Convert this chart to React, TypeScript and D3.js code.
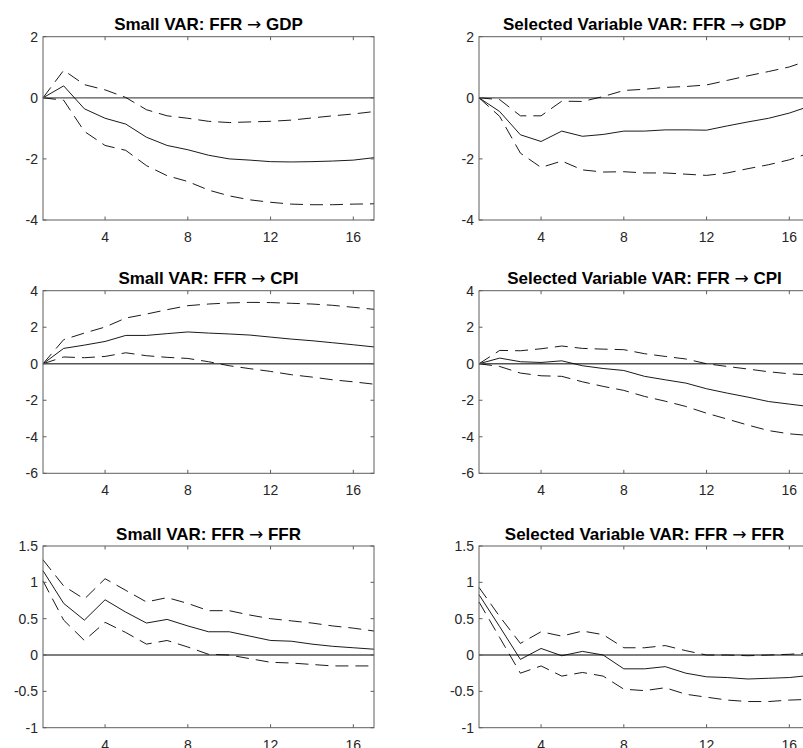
import React from "react";
import * as d3 from "d3";

const horizons = [1, 2, 3, 4, 5, 6, 7, 8, 9, 10, 11, 12, 13, 14, 15, 16, 17];
const xTicks = [4, 8, 12, 16];

const titleLeft = ["Small VAR: FFR", "Selected Variable VAR: FFR", "Small VAR: FFR", "Selected Variable VAR: FFR", "Small VAR: FFR", "Selected Variable VAR: FFR"];
const titleRight = ["GDP", "GDP", "CPI", "CPI", "FFR", "FFR"];

const gdpTicks = [-4, -2, 0, 2];
const cpiTicks = [-6, -4, -2, 0, 2, 4];
const ffrTicks = [-1, -0.5, 0, 0.5, 1, 1.5];

// Small VAR: FFR -> GDP
const smallGdpMid = [0, 0.39, -0.36, -0.67, -0.86, -1.29, -1.56, -1.7, -1.88, -2.0, -2.04, -2.09, -2.1, -2.09, -2.07, -2.04, -1.96];
const smallGdpUp = [0, 0.9, 0.43, 0.26, 0.01, -0.39, -0.59, -0.67, -0.77, -0.81, -0.79, -0.77, -0.73, -0.66, -0.59, -0.53, -0.45];
const smallGdpLo = [0, -0.08, -1.1, -1.56, -1.72, -2.22, -2.55, -2.74, -3.02, -3.21, -3.34, -3.42, -3.48, -3.5, -3.5, -3.48, -3.47];

// Selected Variable VAR: FFR -> GDP
const selGdpMid = [0, -0.45, -1.21, -1.43, -1.09, -1.26, -1.2, -1.09, -1.09, -1.05, -1.05, -1.06, -0.92, -0.79, -0.67, -0.5, -0.27];
const selGdpUp = [0, -0.06, -0.59, -0.59, -0.11, -0.12, 0.04, 0.24, 0.28, 0.34, 0.37, 0.42, 0.57, 0.72, 0.86, 1.01, 1.24];
const selGdpLo = [0, -0.61, -1.81, -2.28, -2.07, -2.36, -2.43, -2.42, -2.46, -2.46, -2.5, -2.54, -2.46, -2.32, -2.19, -2.03, -1.8];

// Small VAR: FFR -> CPI
const smallCpiMid = [0, 0.84, 1.02, 1.22, 1.55, 1.55, 1.65, 1.74, 1.68, 1.63, 1.57, 1.46, 1.35, 1.26, 1.15, 1.04, 0.92];
const smallCpiUp = [0, 1.32, 1.68, 2.01, 2.5, 2.72, 2.96, 3.18, 3.27, 3.33, 3.36, 3.35, 3.31, 3.27, 3.2, 3.09, 2.98];
const smallCpiLo = [0, 0.37, 0.33, 0.4, 0.6, 0.44, 0.35, 0.29, 0.11, -0.11, -0.27, -0.42, -0.6, -0.73, -0.88, -0.99, -1.12];

// Selected Variable VAR: FFR -> CPI
const selCpiMid = [0, 0.31, 0.11, 0.07, 0.16, -0.11, -0.26, -0.37, -0.69, -0.88, -1.06, -1.37, -1.61, -1.83, -2.07, -2.21, -2.35];
const selCpiUp = [0, 0.73, 0.71, 0.82, 0.97, 0.84, 0.8, 0.77, 0.55, 0.4, 0.26, 0.0, -0.15, -0.29, -0.44, -0.55, -0.62];
const selCpiLo = [0, -0.15, -0.51, -0.66, -0.69, -0.99, -1.24, -1.46, -1.79, -2.05, -2.34, -2.71, -3.03, -3.36, -3.66, -3.84, -3.93];

// Small VAR: FFR -> FFR
const smallFfrMid = [1.16, 0.71, 0.48, 0.76, 0.59, 0.44, 0.49, 0.4, 0.32, 0.32, 0.26, 0.2, 0.19, 0.15, 0.12, 0.1, 0.08];
const smallFfrUp = [1.31, 0.95, 0.77, 1.05, 0.89, 0.73, 0.79, 0.71, 0.61, 0.61, 0.55, 0.5, 0.47, 0.44, 0.4, 0.37, 0.33];
const smallFfrLo = [1.02, 0.48, 0.2, 0.45, 0.31, 0.15, 0.2, 0.11, 0.01, 0.0, -0.05, -0.1, -0.11, -0.13, -0.15, -0.15, -0.15];

// Selected Variable VAR: FFR -> FFR
const selFfrMid = [0.83, 0.39, -0.06, 0.09, -0.01, 0.05, 0.0, -0.19, -0.19, -0.16, -0.25, -0.3, -0.31, -0.33, -0.32, -0.31, -0.28];
const selFfrUp = [0.93, 0.53, 0.16, 0.32, 0.26, 0.33, 0.28, 0.1, 0.1, 0.13, 0.06, 0.0, 0.0, -0.01, 0.0, 0.01, 0.03];
const selFfrLo = [0.73, 0.24, -0.25, -0.15, -0.29, -0.24, -0.29, -0.47, -0.49, -0.45, -0.54, -0.58, -0.62, -0.64, -0.64, -0.62, -0.61];

type PanelSpec = {
  left: string;
  right: string;
  yTicks: number[];
  mid: number[];
  up: number[];
  lo: number[];
};

const panels: PanelSpec[] = [
  { left: titleLeft[0], right: titleRight[0], yTicks: gdpTicks, mid: smallGdpMid, up: smallGdpUp, lo: smallGdpLo },
  { left: titleLeft[1], right: titleRight[1], yTicks: gdpTicks, mid: selGdpMid, up: selGdpUp, lo: selGdpLo },
  { left: titleLeft[2], right: titleRight[2], yTicks: cpiTicks, mid: smallCpiMid, up: smallCpiUp, lo: smallCpiLo },
  { left: titleLeft[3], right: titleRight[3], yTicks: cpiTicks, mid: selCpiMid, up: selCpiUp, lo: selCpiLo },
  { left: titleLeft[4], right: titleRight[4], yTicks: ffrTicks, mid: smallFfrMid, up: smallFfrUp, lo: smallFfrLo },
  { left: titleLeft[5], right: titleRight[5], yTicks: ffrTicks, mid: selFfrMid, up: selFfrUp, lo: selFfrLo },
];

const colX = [
  [43, 374],
  [479, 810],
];
const rowY = [
  [36.7, 220],
  [290.7, 473.3],
  [546, 727.7],
];

const FONT = "'Liberation Sans', Arial, Helvetica, sans-serif";
const AXIS = "#5e5e5e";
const TXT = "#262626";

function Panel({ spec, x0, x1, y0, y1 }: { spec: PanelSpec; x0: number; x1: number; y0: number; y1: number }) {
  const xs = d3.scaleLinear().domain([1, 17]).range([x0, x1]);
  const ext = d3.extent(spec.yTicks) as [number, number];
  const ys = d3.scaleLinear().domain(ext).range([y1, y0]);
  const line = d3
    .line<number>()
    .x((_, i) => xs(horizons[i]))
    .y((d) => ys(d));
  const tl = 3.5;
  return (
    <g>
      <text
        x={(x0 + x1) / 2}
        y={y0 - 6.4}
        textAnchor="middle"
        fontFamily={FONT}
        fontWeight="bold"
        fontSize={17}
        fill="#000"
      >
        {spec.left + " "}
        <tspan fontFamily="'DejaVu Sans', sans-serif" fontWeight="normal" fontSize={17}>
          {"\u2192"}
        </tspan>
        {" " + spec.right}
      </text>
      <line x1={x0} x2={x1} y1={ys(0)} y2={ys(0)} stroke="#555" strokeWidth={1.3} />
      <path d={line(spec.up) || ""} fill="none" stroke="#000" strokeWidth={0.9} strokeDasharray="13,7" />
      <path d={line(spec.lo) || ""} fill="none" stroke="#000" strokeWidth={0.9} strokeDasharray="13,7" />
      <path d={line(spec.mid) || ""} fill="none" stroke="#000" strokeWidth={0.9} />
      <rect x={x0} y={y0} width={x1 - x0} height={y1 - y0} fill="none" stroke={AXIS} strokeWidth={1} />
      {xTicks.map((t) => (
        <g key={"x" + t}>
          <line x1={xs(t)} x2={xs(t)} y1={y1} y2={y1 - tl} stroke={AXIS} />
          <line x1={xs(t)} x2={xs(t)} y1={y0} y2={y0 + tl} stroke={AXIS} />
          <text
            x={xs(t)}
            y={y1 + 22}
            textAnchor="middle"
            fontFamily={FONT}
            fontSize={14}
            fill={TXT}
          >
            {t}
          </text>
        </g>
      ))}
      {spec.yTicks.map((t) => (
        <g key={"y" + t}>
          <line x1={x0} x2={x0 + tl} y1={ys(t)} y2={ys(t)} stroke={AXIS} />
          <line x1={x1} x2={x1 - tl} y1={ys(t)} y2={ys(t)} stroke={AXIS} />
          <text
            x={x0 - 5}
            y={ys(t) + 5}
            textAnchor="end"
            fontFamily={FONT}
            fontSize={14}
            fill={TXT}
          >
            {String(t)}
          </text>
        </g>
      ))}
    </g>
  );
}

export default function App() {
  return (
    <svg
      width={803}
      height={748}
      style={{ position: "absolute", left: 0, top: 0, background: "#fff" }}
    >
      <rect x={0} y={0} width={803} height={748} fill="#fff" />
      {panels.map((p, i) => {
        const r = Math.floor(i / 2);
        const c = i % 2;
        return (
          <Panel
            key={i}
            spec={p}
            x0={colX[c][0]}
            x1={colX[c][1]}
            y0={rowY[r][0]}
            y1={rowY[r][1]}
          />
        );
      })}
    </svg>
  );
}
